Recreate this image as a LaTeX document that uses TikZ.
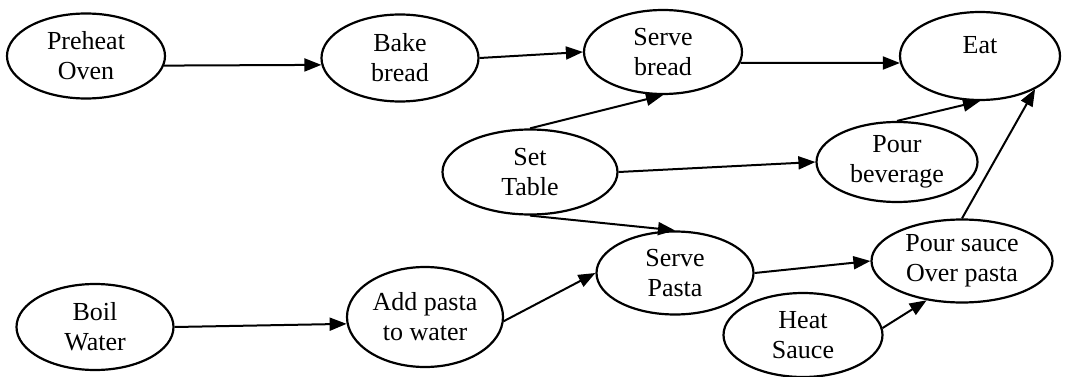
\documentclass[tikz,border=0pt]{standalone}
\usepackage{fontspec}
\setmainfont{Liberation Serif}
\usetikzlibrary{shapes.geometric,arrows.meta}
\begin{document}
\begin{tikzpicture}[x=1pt,y=-1pt,
  task/.style={draw, ellipse, line width=2.2pt, inner sep=0pt, align=center,
    font=\fontsize{26}{30}\selectfont},
  flow/.style={-{Triangle[length=17pt,width=13pt]}, line width=2pt}]
\useasboundingbox (0,0) rectangle (1068,377);
\node[task, minimum width=158pt, minimum height=85pt] (po) at (86,56) {Preheat\\Oven};
\node[task, minimum width=157pt, minimum height=87pt] (bb) at (400,58) {Bake\\bread};
\node[task, minimum width=158pt, minimum height=84pt] (sb) at (663,52) {Serve\\bread};
\node[task, minimum width=160pt, minimum height=88pt] (eat) at (980,56) {Eat\\[-16pt]\strut};
\node[task, minimum width=175pt, minimum height=85pt] (st) at (530,172) {Set\\Table};
\node[task, minimum width=161pt, minimum height=80pt] (pb) at (897,162) {Pour\\beverage};
\node[task, minimum width=157pt, minimum height=83pt] (sp) at (675,273) {Serve\\Pasta};
\node[task, minimum width=181pt, minimum height=83pt] (ps) at (962,261) {Pour sauce\\Over pasta};
\node[task, minimum width=159pt, minimum height=84pt] (hs) at (803,335) {Heat\\Sauce};
\node[task, minimum width=157pt, minimum height=86pt] (bw) at (95,327) {Boil\\Water};
\node[task, minimum width=156pt, minimum height=100pt] (ap) at (425,317) {Add pasta\\to water};
\draw[flow] (po.-7) -- (bb.185);
\draw[flow] (bb.east) -- (sb.west);
\draw[flow] (sb.-8) -- (eat.185);
\draw[flow] (st.north) -- (sb.south);
\draw[flow] (st.east) -- (pb.west);
\draw[flow] (st.south) -- (sp.north);
\draw[flow] (pb.north) -- (eat.south);
\draw[flow] (ps.north) -- (eat.-31);
\draw[flow] (bw.east) -- (ap.185);
\draw[flow] (ap.-3) -- (sp.west);
\draw[flow] (sp.east) -- (ps.west);
\draw[flow] (hs.5) -- (ps.228);
\end{tikzpicture}
\end{document}
